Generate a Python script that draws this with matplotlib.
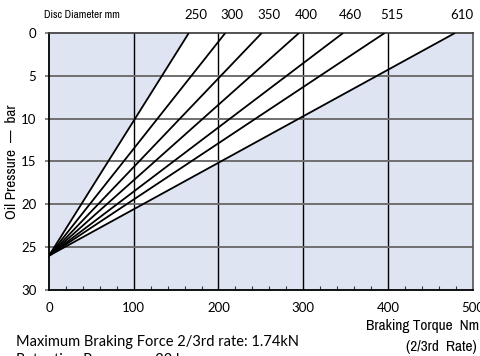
import matplotlib.pyplot as plt
from matplotlib import font_manager
import numpy as np

# disc diameters and the torque each line reaches at 0 bar
discs = ['250', '300', '350', '400', '460', '515', '610']
torque_at_zero = [165, 208, 251, 295, 347, 396, 479]
p_start = 26  # all lines start here at zero torque

blue = '#dfe4f2'
plt.rcParams['font.family'] = ['Lato', 'DejaVu Sans']

# pick a condensed regular face for the axis titles
narrow = font_manager.FontProperties(family='DejaVu Sans')
cands = [f for f in font_manager.fontManager.ttflist
         if ('Narrow' in f.name or 'Condensed' in f.name
             or f.stretch in ('condensed', 'semi-condensed'))
         and f.weight in (400, 'normal', 'regular') and f.style == 'normal']
cands.sort(key=lambda f: 'Narrow' not in f.name)
if cands:
    narrow = font_manager.FontProperties(fname=cands[0].fname)

fig = plt.figure(figsize=(4.8, 3.56), dpi=100)
ax = fig.add_axes([0.102, 0.1854, 0.883, 0.7219])
ax.set_facecolor(blue)

# white band between the smallest and largest disc
ax.fill([0, torque_at_zero[0], torque_at_zero[-1]], [p_start, 0, 0],
        color='white', zorder=1, lw=0)

for t in [100, 200, 300, 400]:
    ax.axvline(t, color='black', lw=1.0, zorder=2)
for p in [5, 10, 15, 20, 25]:
    ax.axhline(p, color='#6f6f6f', lw=1.4, zorder=2)

for t in torque_at_zero:
    ax.plot([0, t], [p_start, 0], color='black', lw=1.3, zorder=3,
            solid_capstyle='butt')

ax.set_xlim(0, 500)
ax.set_ylim(30, 0)
ax.set_xticks([0, 100, 200, 300, 400, 500])
ax.set_xticks(np.arange(0, 501, 20), minor=True)
ax.set_yticks([0, 5, 10, 15, 20, 25, 30])
ax.tick_params(axis='x', which='major', length=0, pad=9, labelsize=9.5)
ax.tick_params(axis='x', which='minor', direction='in', length=3, width=0.8,
               color='#333333')
ax.tick_params(axis='y', length=3, width=1.2, color='#6f6f6f', pad=6,
               labelsize=9.5)

for side in ['left', 'bottom']:
    ax.spines[side].set_color('black')
    ax.spines[side].set_linewidth(1.3)
ax.spines['top'].set_color('#444444')
ax.spines['top'].set_linewidth(1.3)
ax.spines['right'].set_color('#555555')
ax.spines['right'].set_linewidth(1.2)

# disc diameter labels above the plot
for lab, t in zip(discs, torque_at_zero):
    ax.annotate(lab, (t, 0), xytext=(5, 13), textcoords='offset points',
                ha='center', va='center', fontsize=9.5, annotation_clip=False)
fig.text(44 / 480, 1 - 15 / 356, 'Disc Diameter mm', fontproperties=narrow,
         fontsize=8, va='center', ha='left')

fig.text(12 / 480, 0.547, 'Oil Pressure  —  bar', fontproperties=narrow,
         fontsize=11, rotation=90, ha='center', va='center')
fig.text(0.998, 0.084, 'Braking Torque  Nm', fontproperties=narrow,
         fontsize=11, ha='right', va='center')
fig.text(0.992, 0.025, '(2/3rd  Rate)', fontproperties=narrow, fontsize=11,
         ha='right', va='center')

fig.text(0.033, 0.04, 'Maximum Braking Force 2/3rd rate: 1.74kN',
         fontsize=10.5, ha='left', va='center')
fig.text(0.033, -0.012, 'Retention Pressure \u2013 33 bar',
         fontsize=10.5, ha='left', va='center')

fig.savefig('out.png', dpi=100)
